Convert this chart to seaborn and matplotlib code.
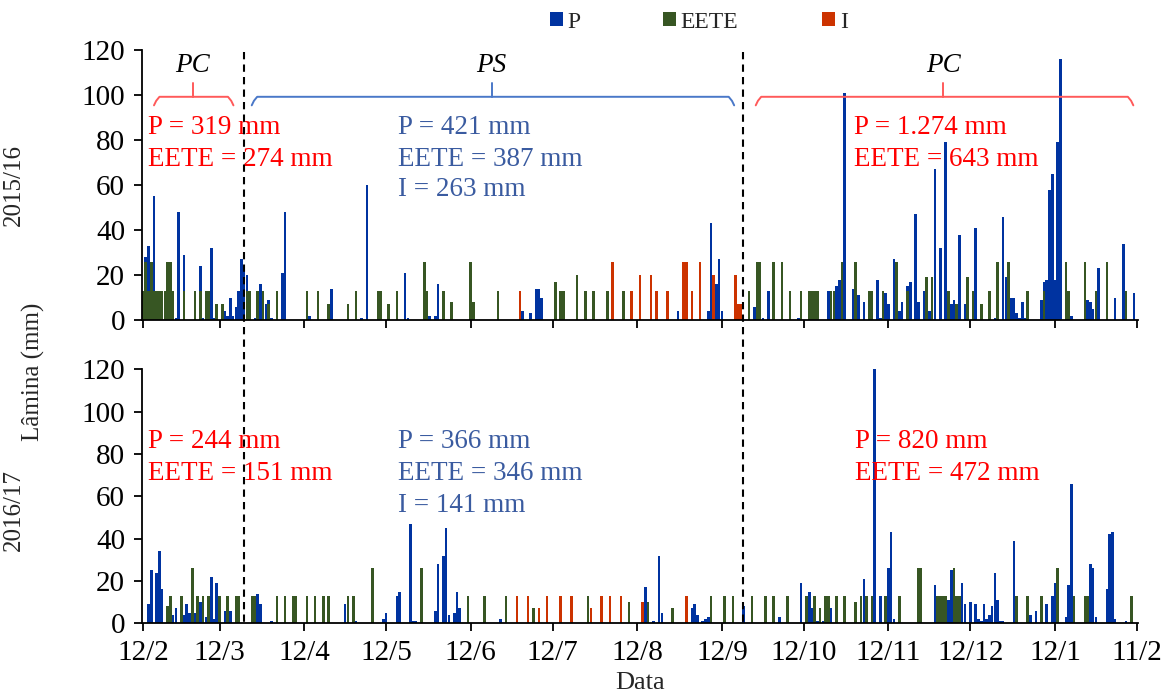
import numpy as np
import pandas as pd
import seaborn as sns
import matplotlib
matplotlib.use("Agg")
import matplotlib.pyplot as plt
from matplotlib.lines import Line2D
from matplotlib.patches import Patch

# ---------------- data ----------------
tick_days = [0, 28, 59, 89, 120, 150, 181, 212, 242, 273, 303, 334, 364]
tick_labels = ["12/2", "12/3", "12/4", "12/5", "12/6", "12/7", "12/8",
               "12/9", "12/10", "12/11", "12/12", "12/1", "11/2"]
series = ["P", "EETE", "I"]
season_labels = ["2015/16", "2016/17"]
period_split_days = [36.9, 219.8]

# 2015/16  (day offset from 12/2, mm)
p_2015 = [(1, 28), (2, 33), (4, 55), (12, 1), (13, 48), (15, 29), (21, 24), (22, 1), (25, 32), (26, 1),
          (30, 4), (31, 2), (32, 10), (33, 2), (34, 6), (35, 13), (36, 27), (37, 22), (38, 20), (41, 1),
          (43, 16), (45, 7), (46, 9), (47, 1), (51, 21), (52, 48), (61, 2), (69, 14), (80, 1), (82, 60),
          (96, 21), (97, 1), (105, 2), (107, 2), (108, 16), (139, 4), (142, 3), (144, 14), (145, 14), (146, 10),
          (196, 4), (207, 4), (208, 43), (210, 16), (211, 27), (212, 4), (224, 6), (227, 1), (229, 13), (240, 1),
          (251, 13), (254, 15), (255, 18), (257, 101), (260, 14), (262, 11), (264, 8), (269, 18), (270, 1), (272, 12),
          (273, 7), (275, 27), (277, 4), (278, 8), (280, 15), (281, 17), (283, 47), (284, 8), (286, 13), (288, 4),
          (290, 67), (292, 32), (294, 79), (296, 7), (297, 9), (299, 38), (301, 7), (305, 41), (312, 1), (315, 46),
          (316, 19), (318, 10), (319, 10), (320, 3), (321, 1), (322, 8), (323, 1), (329, 9), (330, 17), (331, 18),
          (332, 58), (333, 65), (334, 18), (335, 79), (336, 116), (340, 2), (346, 9), (347, 8), (348, 5), (349, 7),
          (350, 23), (356, 10), (359, 34), (363, 12)]
e_2015 = [(0, 13), (1, 26), (2, 13), (3, 26), (4, 13), (5, 13), (6, 13), (7, 13), (8, 13), (9, 26), (10, 26),
          (11, 13), (15, 13), (19, 13), (21, 13), (23, 13), (24, 13), (27, 7), (29, 7), (38, 13), (39, 13),
          (42, 13), (44, 13), (46, 7), (49, 13), (60, 13), (64, 13), (68, 7), (75, 7), (78, 13), (86, 13),
          (87, 13), (90, 7), (93, 13), (103, 26), (104, 13), (110, 13), (113, 8), (120, 26), (121, 8), (130, 13),
          (151, 17), (153, 13), (154, 13), (159, 20), (162, 13), (165, 13), (170, 13), (176, 13), (222, 13),
          (225, 26), (226, 26), (231, 26), (234, 26), (237, 13), (241, 13), (244, 13), (245, 13), (246, 13),
          (247, 13), (252, 13), (253, 13), (256, 26), (261, 26), (266, 13), (267, 13), (271, 13), (276, 26),
          (280, 13), (287, 19), (289, 19), (295, 13), (298, 7), (302, 19), (304, 13), (307, 7), (310, 13),
          (313, 26), (317, 26), (324, 13), (330, 13), (338, 26), (339, 13), (345, 26), (349, 13), (353, 26),
          (360, 13)]
i_2015 = [(138, 13), (172, 26), (179, 13), (182, 20), (186, 20), (188, 13), (192, 13), (198, 26), (199, 26),
          (201, 13), (204, 26), (209, 20), (217, 20), (218, 7), (219, 7)]

# 2016/17
p_2016 = [(2, 9), (3, 25), (5, 24), (6, 34), (7, 16), (11, 4), (12, 7), (15, 4), (16, 9), (17, 5), (18, 5),
          (19, 5), (21, 10), (23, 3), (25, 22), (26, 2), (27, 19), (30, 6), (32, 6), (42, 14), (43, 9), (47, 1),
          (74, 9), (78, 1), (88, 2), (89, 5), (93, 13), (94, 15), (98, 47), (99, 1), (100, 1), (107, 6), (108, 28),
          (110, 32), (111, 45), (112, 4), (114, 5), (115, 15), (116, 7), (131, 2), (184, 17), (187, 1), (189, 32),
          (190, 5), (201, 7), (202, 9), (203, 4), (205, 1), (206, 2), (207, 3), (220, 8), (233, 3), (241, 19),
          (244, 15), (245, 7), (247, 1), (249, 1), (252, 7), (264, 21), (267, 1), (268, 120), (270, 13), (273, 26),
          (274, 43), (275, 2), (290, 18), (295, 11), (296, 25), (300, 19), (301, 9), (303, 10), (305, 9), (306, 2),
          (307, 1), (308, 9), (309, 2), (310, 4), (311, 8), (312, 24), (313, 11), (314, 1), (315, 1), (319, 39),
          (325, 4), (327, 6), (331, 9), (333, 13), (334, 19), (338, 3), (339, 18), (340, 66), (341, 2), (347, 28),
          (348, 26), (349, 3), (353, 16), (354, 42), (355, 43), (356, 2), (360, 1)]
e_2016 = [(9, 8), (10, 13), (14, 13), (18, 26), (20, 13), (22, 13), (24, 13), (28, 13), (31, 13), (34, 13),
          (35, 13), (40, 13), (41, 13), (49, 13), (52, 13), (55, 13), (56, 13), (60, 13), (63, 13), (66, 13),
          (68, 13), (75, 13), (77, 13), (84, 26), (102, 26), (119, 13), (125, 13), (133, 13), (143, 7), (163, 13),
          (178, 10), (185, 10), (194, 7), (208, 13), (213, 13), (216, 13), (223, 13), (228, 13), (231, 13),
          (236, 13), (243, 13), (246, 13), (248, 7), (250, 13), (251, 13), (254, 13), (257, 13), (261, 10),
          (263, 13), (265, 13), (267, 13), (272, 13), (277, 13), (284, 26), (285, 26), (291, 13), (292, 13),
          (293, 13), (294, 13), (297, 26), (298, 13), (299, 13), (320, 13), (324, 13), (329, 13), (335, 26),
          (341, 13), (345, 13), (346, 13), (362, 13)]
i_2016 = [(137, 13), (141, 13), (145, 7), (148, 13), (153, 13), (157, 13), (164, 7), (168, 13), (171, 13),
          (175, 13), (183, 10), (199, 13)]

# summary texts: (day, lines, colour)
texts_2015 = [(1.9, ["P = 319 mm", "EETE = 274 mm"], "red"),
              (93.2, ["P = 421 mm", "EETE = 387 mm", "I = 263 mm"], "blue"),
              (260.4, ["P = 1.274 mm", "EETE = 643 mm"], "red")]
texts_2016 = [(1.9, ["P = 244 mm", "EETE = 151 mm"], "red"),
              (93.2, ["P = 366 mm", "EETE = 346 mm", "I = 141 mm"], "blue"),
              (260.7, ["P = 820 mm", "EETE = 472 mm"], "red")]
periods = [("PC", 4.0, 33.1, 18.2, "red"), ("PS", 39.8, 216.5, 127.7, "blue"), ("PC", 224.4, 362.7, 293.1, "red")]

# ---------------- style ----------------
colors = {"P": "#0033a0", "EETE": "#375623", "I": "#cc3300"}
txt_col = {"red": "#ff0000", "blue": "#3a5ba0"}
br_col = {"red": "#ff5a5a", "blue": "#4a78c8"}

sns.set_theme(style="ticks")
plt.rcParams["font.family"] = ["Liberation Serif", "DejaVu Serif"]

W, H = 1165, 695
fig = plt.figure(figsize=(W / 100, H / 100), dpi=100)
x0, x1 = 141.7, 1137.7
ax1 = fig.add_axes([x0 / W, 1 - 320 / H, (x1 - x0) / W, 270 / H])
ax2 = fig.add_axes([x0 / W, 1 - 623.3 / H, (x1 - x0) / W, 254 / H])


def make_df(p, e, i):
    rows = []
    for name, data in zip(series, [p, e, i]):
        for d, v in data:
            rows.append({"day": d, "val": v, "serie": name})
    return pd.DataFrame(rows)


def draw(ax, df, texts, lines_y, with_brackets):
    sns.barplot(data=df, x="day", y="val", hue="serie", hue_order=series,
                palette=colors, native_scale=True, dodge=False, errorbar=None,
                width=0.95, saturation=1, linewidth=0, legend=False, ax=ax)
    ax.set_xlim(-0.5, 364.3)
    ax.set_ylim(0, 120)
    ax.set_yticks(range(0, 121, 20))
    ax.set_xticks(tick_days)
    ax.set_xlabel("")
    ax.set_ylabel("")
    for s in ["top", "right"]:
        ax.spines[s].set_visible(False)
    for s in ["left", "bottom"]:
        ax.spines[s].set_color("black")
        ax.spines[s].set_linewidth(1.3)
    ax.tick_params(axis="both", direction="out", length=6, width=1.3,
                   colors="black", labelsize=21, pad=6)
    for d, lines, c in texts:
        for k, t in enumerate(lines):
            ax.text(d, lines_y[k], t, color=txt_col[c], fontsize=19.5,
                    ha="left", va="baseline")
    if with_brackets:
        for lab, a, b, cx, c in periods:
            col = br_col[c]
            yh, yb, yt = 99.2, 95.4, 105.4
            ax.plot([a, a + 0.8, a + 2.0, b - 2.0, b - 0.8, b],
                    [yb, yh - 1.8, yh, yh, yh - 1.8, yb], color=col, lw=1.4,
                    solid_capstyle="round")
            ax.plot([cx, cx], [yh, yt], color=col, lw=1.4)
            ax.text(cx, 110.0, lab, fontsize=19.5, style="italic",
                    ha="center", va="baseline", color="black")


draw(ax1, make_df(p_2015, e_2015, i_2015), texts_2015, [82.7, 68.4, 55.1], True)
draw(ax2, make_df(p_2016, e_2016, i_2016), texts_2016, [82.7, 67.7, 52.7], False)
ax1.set_xticklabels([])
ax2.set_xticklabels(tick_labels)

# dashed period separators across both panels
inv = fig.transFigure.inverted()
for d in period_split_days:
    xf = inv.transform(ax1.transData.transform((d, 0)))[0]
    fig.add_artist(Line2D([xf, xf], [1 - 52 / H, 1 - 622 / H], transform=fig.transFigure,
                          color="black", lw=1.5, ls=(0, (3.5, 2.5))))

# labels
fig.text(14 / W, 1 - 185 / H, season_labels[0], rotation=90, ha="center", va="center", fontsize=18)
fig.text(14 / W, 1 - 510 / H, season_labels[1], rotation=90, ha="center", va="center", fontsize=18)
fig.text(33 / W, 1 - 372 / H, "Lâmina (mm)", rotation=90, ha="center", va="center", fontsize=18)
fig.text(640 / W, 1 - 683 / H, "Data", ha="center", va="center", fontsize=19)

# legend entries (positions as in the original)
for name, xpx in zip(series, [550, 663, 822]):
    fig.legend(handles=[Patch(facecolor=colors[name], edgecolor="none", label=name)],
               loc="center left", bbox_to_anchor=(xpx / W, 1 - 22 / H), frameon=False,
               fontsize=17, handlelength=0.55, handleheight=0.55, handletextpad=0.2,
               borderpad=0, borderaxespad=0)

fig.savefig("out.png", dpi=100)
